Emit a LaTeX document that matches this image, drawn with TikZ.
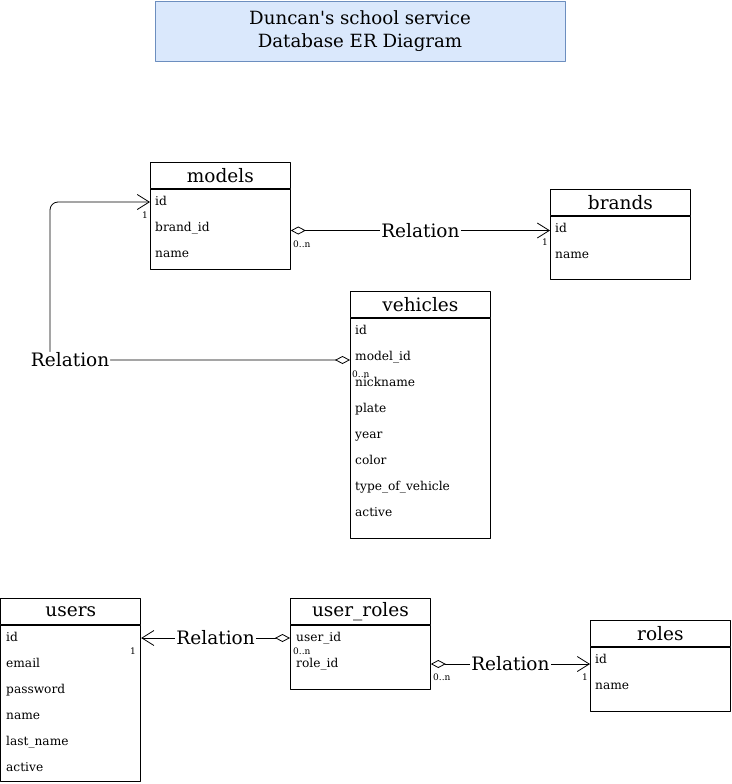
\documentclass[tikz,border=0pt]{standalone}
\usepackage{fontspec}
\setmainfont{DejaVu Serif}
\usetikzlibrary{arrows.meta,positioning}
\definecolor{titlefill}{HTML}{DAE8FC}
\definecolor{titleline}{HTML}{6C8EBF}

\begin{document}
\begin{tikzpicture}[x=1pt,y=-1pt,line cap=round,line join=round,every node/.style={inner sep=1pt},
  tblhead/.style={draw,line width=0.8pt,minimum width=140pt,minimum height=26pt,inner sep=0pt,anchor=north west,font=\fontsize{18.5}{21}\selectfont},
  tblbody/.style={draw,line width=0.8pt,minimum width=140pt,inner sep=0pt},
  field/.style={anchor=west,text height=9pt,text depth=3pt,font=\fontsize{12.2}{14}\selectfont},
  rel/.style={line width=0.8pt,{Diamond[open,fill=white,length=15pt,width=8pt]}-{Straight Barb[length=12pt,width=15pt]}},
  rellabel/.style={fill=white,inner sep=1pt,font=\fontsize{18.5}{21}\selectfont},
  mult/.style={inner sep=0pt,font=\fontsize{9}{10}\selectfont}]
  \useasboundingbox (0,0) rectangle (731,784);
  % title
  \node[draw=titleline,fill=titlefill,line width=0.6pt,minimum width=410pt,minimum height=60pt,align=center,
    font=\fontsize{18.2}{23}\selectfont] (title) at (360,31) {Duncan\textquotesingle s school service\\Database ER Diagram};
  % models
  \node[tblhead] (models-h) at (150,162) {models};
  \node[tblbody,minimum height=80pt,below=0pt of models-h] (models-b) {};
  \foreach \f [count=\i] in {id,brand\_id,name}
    \node[field] (models-\i) at (154,{202+26*(\i-1)}) {\f};
  % brands
  \node[tblhead] (brands-h) at (550,189) {brands};
  \node[tblbody,minimum height=63pt,below=0pt of brands-h] (brands-b) {};
  \foreach \f [count=\i] in {id,name}
    \node[field] (brands-\i) at (554,{229+26*(\i-1)}) {\f};
  % vehicles
  \node[tblhead] (vehicles-h) at (350,291) {vehicles};
  \node[tblbody,minimum height=220pt,below=0pt of vehicles-h] (vehicles-b) {};
  \foreach \f [count=\i] in {id,model\_id,nickname,plate,year,color,type\_of\_vehicle,active}
    \node[field] (vehicles-\i) at (354,{331+26*(\i-1)}) {\f};
  % users
  \node[tblhead] (users-h) at (0.4,598) {users};
  \node[tblbody,minimum height=156pt,below=0pt of users-h] (users-b) {};
  \foreach \f [count=\i] in {id,email,password,name,last\_name,active}
    \node[field] (users-\i) at (5,{638+26*(\i-1)}) {\f};
  % user_roles
  \node[tblhead] (uroles-h) at (290,598) {user\_roles};
  \node[tblbody,minimum height=64pt,below=0pt of uroles-h] (uroles-b) {};
  \foreach \f [count=\i] in {user\_id,role\_id}
    \node[field] (uroles-\i) at (295,{638+26*(\i-1)}) {\f};
  % roles
  \node[tblhead] (roles-h) at (590,620) {roles};
  \node[tblbody,minimum height=64pt,below=0pt of roles-h] (roles-b) {};
  \foreach \f [count=\i] in {id,name}
    \node[field] (roles-\i) at (594,{660+26*(\i-1)}) {\f};
  % relations
  \draw[rel] ([yshift=-2.5pt]models-b.east |- models-2) -- node[rellabel] {Relation} ([yshift=-2.5pt]brands-b.west |- models-2);
  \coordinate (turn) at ([yshift=-3pt]users-b.east |- vehicles-2);
  \draw[rel,rounded corners=8pt] ([yshift=-3pt]vehicles-b.west |- vehicles-2) -- node[rellabel,pos=0.933] {Relation} (turn -| 50,0) |- (models-b.west |- models-1);
  \draw[rel] (uroles-b.west |- uroles-1) -- node[rellabel] {Relation} (users-b.east |- uroles-1);
  \draw[rel] (uroles-b.east |- uroles-2) -- node[rellabel] {Relation} (roles-b.west |- uroles-2);
  % multiplicities
  \node[mult,anchor=west] (m-brand) at (293,244) {0..n};
  \node[mult,anchor=east] (m-brands) at (548,242) {1};
  \node[mult,anchor=west] (m-model) at (352,374) {0..n};
  \node[mult,anchor=east] (m-models) at (148,215) {1};
  \node[mult,anchor=west] (m-user) at (293,651) {0..n};
  \node[mult,anchor=east] (m-users) at (136,651) {1};
  \node[mult,anchor=west] (m-role) at (433,677) {0..n};
  \node[mult,anchor=east] (m-roles) at (588,677) {1};
\end{tikzpicture}
\end{document}
